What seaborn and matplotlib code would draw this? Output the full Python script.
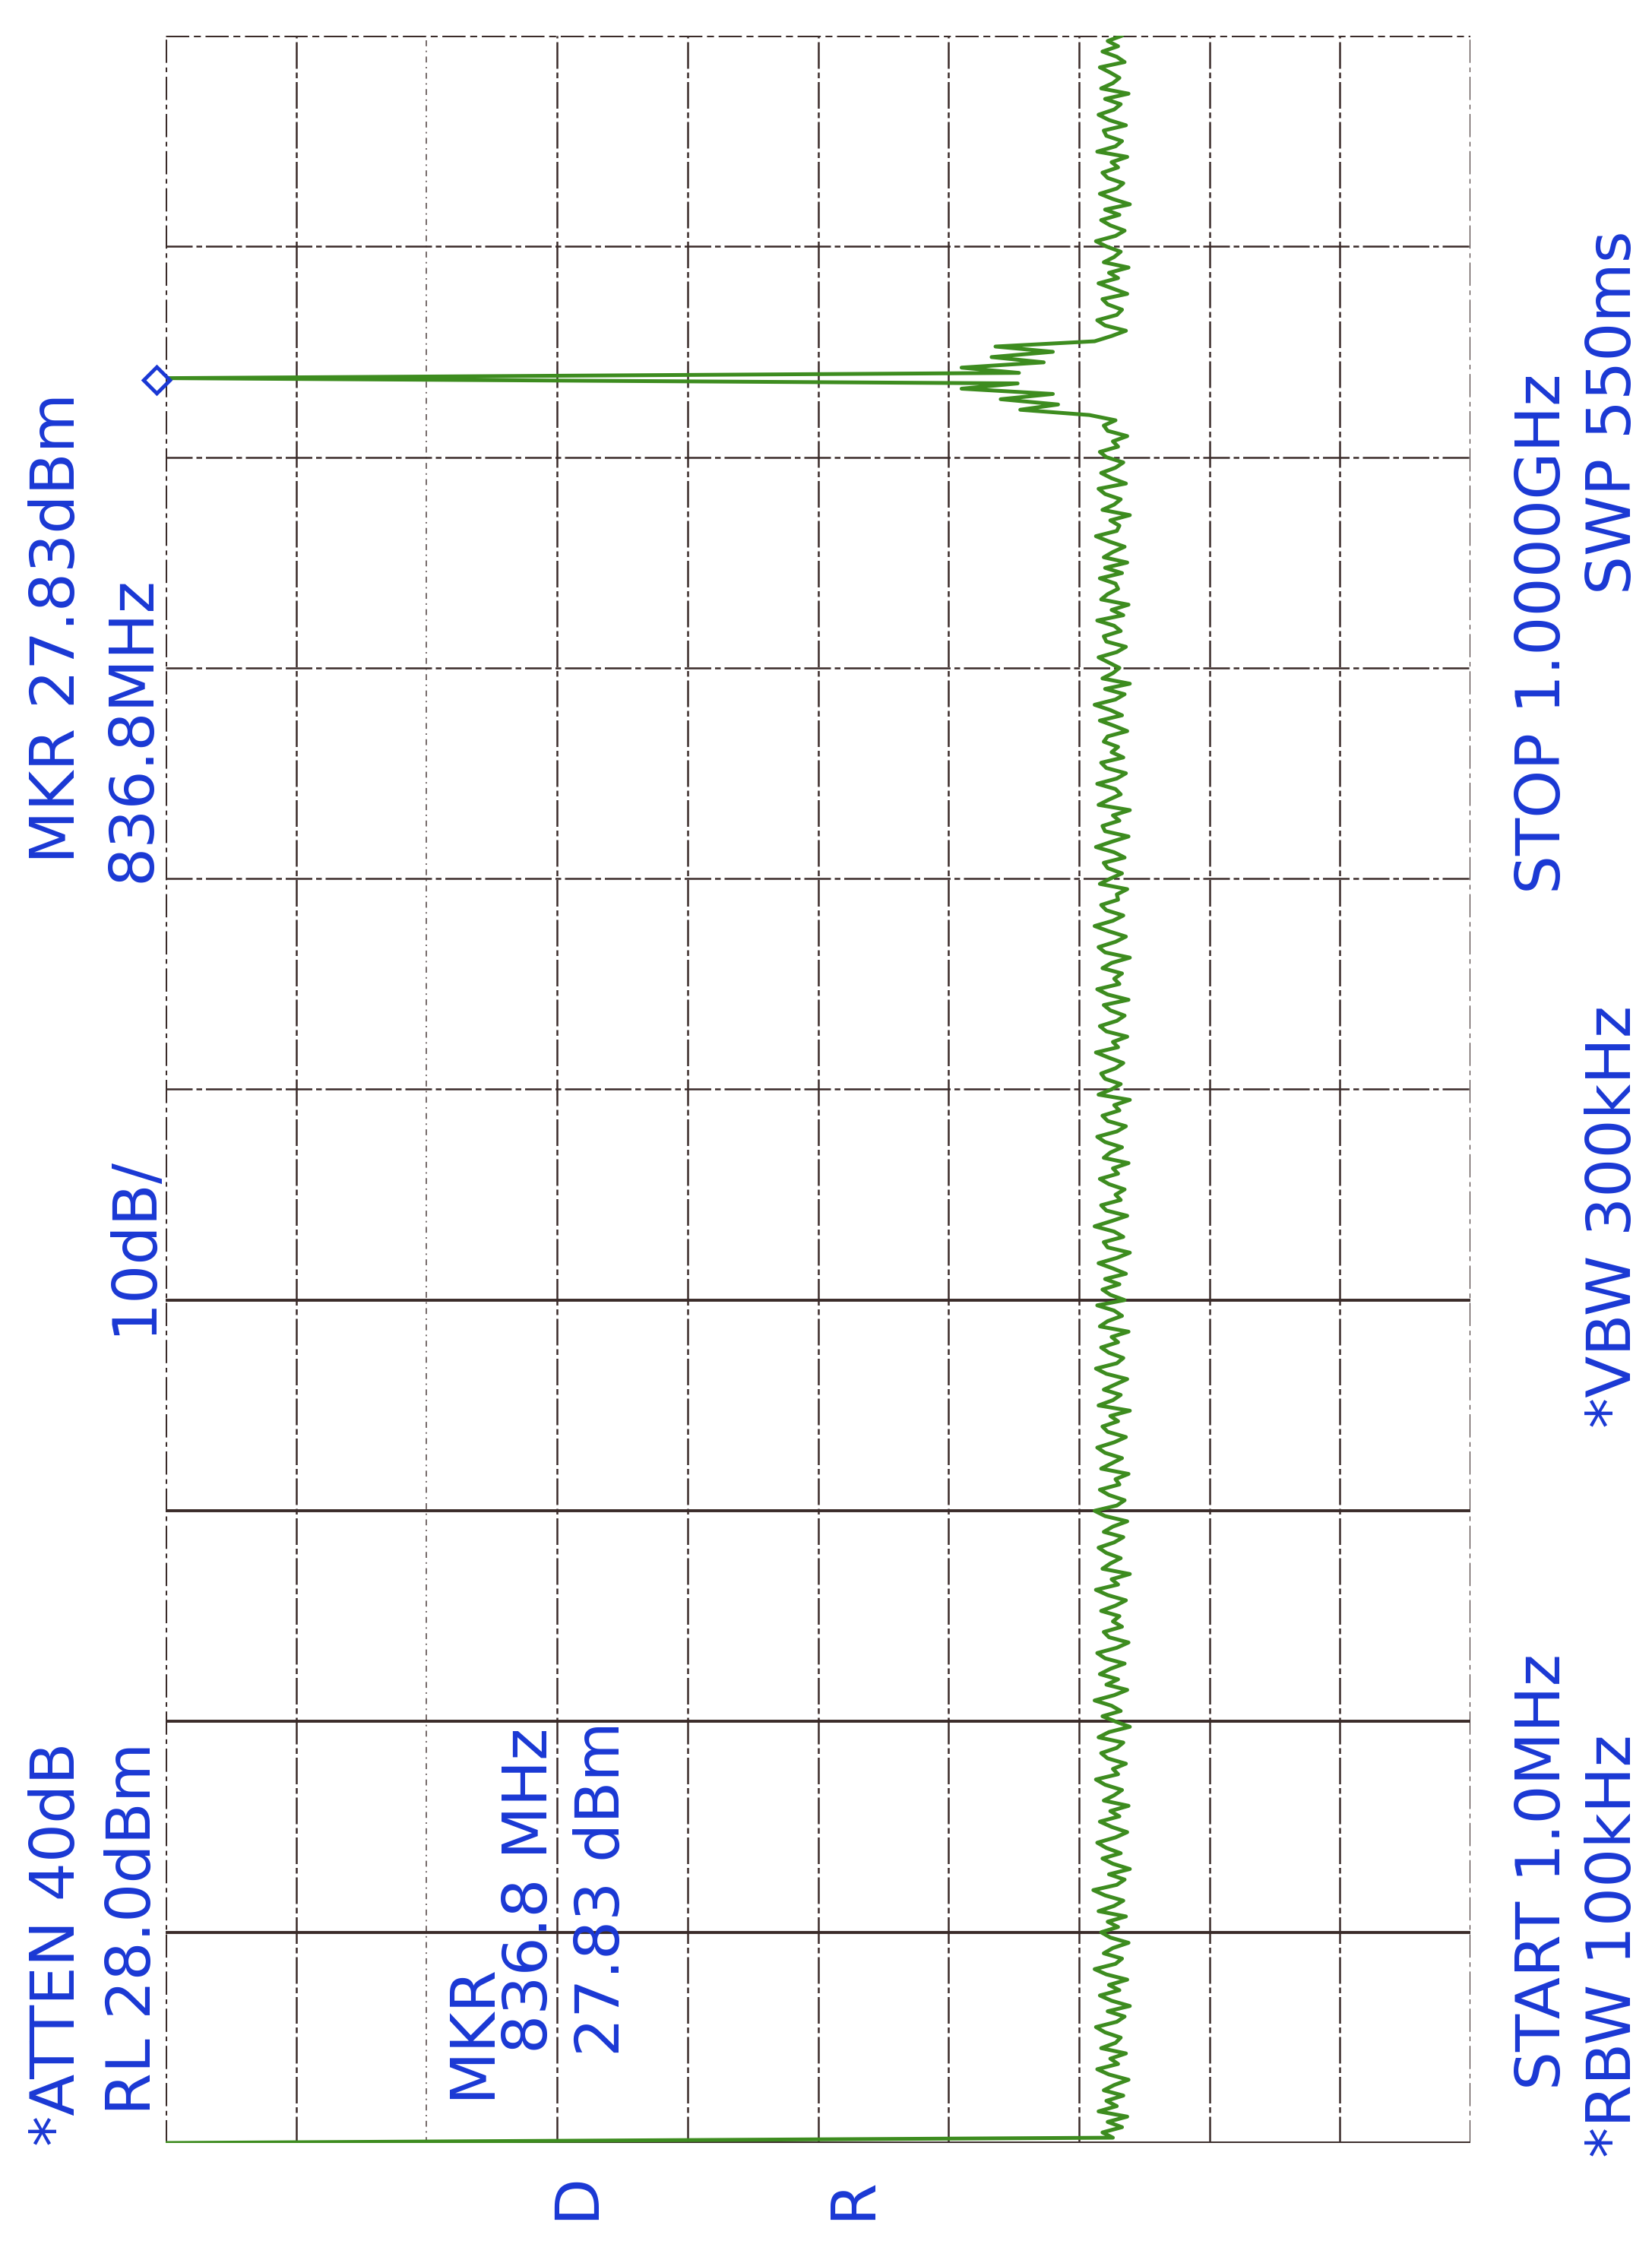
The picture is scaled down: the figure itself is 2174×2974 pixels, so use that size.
import numpy as np
import pandas as pd
import matplotlib
matplotlib.use("Agg")
import matplotlib.pyplot as plt
import matplotlib.transforms as mtransforms
import seaborn as sns

# sweep settings read from the annotations
start_mhz = 1.0
stop_mhz = 1000.0
n_points = 401
ref_level = 28.0
db_per_div = 10.0

marker_mhz = 836.8
marker_dbm = 27.83

# trace values (dBm), low frequency to high
lo_feedthrough = [28.0]
noise_low = [
    -44.6, -43.8, -45.3, -44.2, -45.7, -43.5, -44.9, -44.1, -45.4, -43.9,
    -44.7, -45.8, -44.3, -43.4, -45.0, -44.4, -45.6, -43.7, -44.8, -45.2,
    -44.0, -43.3, -44.9, -45.5, -44.2, -45.9, -44.5, -43.6, -45.1, -44.3,
    -45.7, -44.1, -43.2, -44.8, -45.3, -43.9, -44.6, -45.8, -44.4, -43.7,
    -45.0, -44.2, -45.6, -43.5, -44.7, -45.4, -44.0, -43.1, -44.9, -45.5,
    -44.3, -45.9, -44.6, -43.8, -45.2, -44.1, -43.4, -44.8, -45.7, -44.5,
    -43.6, -45.1, -44.4, -45.8, -43.9, -44.7, -45.3, -44.0, -43.3, -45.0,
    -44.6, -45.6, -44.2, -43.7, -44.9, -45.4, -43.5, -44.3, -45.9, -44.8,
    -43.8, -45.2, -44.5, -43.2, -44.7, -45.7, -44.1, -45.0, -43.6, -44.4,
    -45.5, -44.0, -43.4, -44.9, -45.8, -44.3, -43.9, -45.3, -44.6, -45.1,
    -43.7, -44.8, -45.6, -44.2, -43.3, -45.0, -44.5, -45.9, -43.8, -44.4,
    -45.2, -44.1, -43.5, -44.7, -45.4, -43.9, -44.6, -45.7, -44.0, -43.2,
    -44.9, -45.5, -44.3, -43.6, -45.1, -44.8, -45.8, -43.7, -44.5, -45.3,
    -44.0, -43.4, -44.7, -45.6, -44.2, -43.8, -45.0, -44.4, -45.9, -43.5,
    -44.6, -45.2, -43.9, -44.8, -45.7, -44.1, -43.3, -44.9, -45.4, -44.3,
    -43.7, -45.0, -44.5, -45.8, -43.6, -44.2, -45.3, -44.7, -43.4, -45.5,
    -44.4, -43.8, -45.1, -44.0, -45.6, -44.6, -43.5, -44.9, -45.9, -44.2,
    -43.9, -45.4, -44.7, -43.2, -44.5, -45.7, -44.1, -43.7, -45.2, -44.8,
    -45.5, -44.3, -43.6, -45.0, -44.6, -45.8, -43.9, -44.4, -45.3, -44.0,
    -43.4, -44.9, -45.6, -44.2, -43.8, -45.1, -44.7, -45.9, -43.5, -44.5,
    -45.2, -44.0, -43.7, -44.8, -45.4, -44.3, -43.3, -45.0, -44.6, -45.7,
    -44.1, -43.6, -44.9, -45.5, -44.4, -43.9, -45.8, -44.2, -43.4, -45.1,
    -44.7, -45.3, -43.8, -44.5, -45.9, -44.0, -43.5, -44.8, -45.6, -44.3,
    -43.2, -44.6, -45.4, -44.1, -43.7, -45.0, -44.9, -45.7, -43.6, -44.4,
    -45.3, -44.2, -43.9, -45.5, -44.7, -43.3, -44.5, -45.8, -44.0, -43.8,
    -45.1, -44.6, -45.9, -43.5, -44.3, -45.2, -44.8, -43.4, -44.9, -45.6,
    -44.1, -43.7, -45.4, -44.5, -45.0, -43.9, -44.2, -45.7, -44.7, -43.6,
    -45.3, -44.4, -43.2, -44.8, -45.5, -44.0, -45.9, -43.8, -44.6, -45.1,
    -44.3, -43.5, -44.9, -45.6, -44.1, -43.9, -45.2, -44.7, -43.4, -45.4,
    -44.5, -45.8, -43.7, -44.2, -45.0, -44.8, -43.6, -45.3, -44.0, -45.7,
    -43.9, -44.6, -45.5, -44.3, -43.3, -44.9, -45.1, -44.4, -45.9, -43.8,
    -44.7, -45.2, -44.0, -43.5, -45.6, -44.5, -43.7, -44.8, -45.4, -44.1,
    -43.6, -45.0, -44.6, -45.7, -44.2, -43.9, -44.8,
]
carrier = [
    -42.8, -37.5, -40.4, -36.0, -40.0, -33.0, -37.3, 27.83,
    -37.4, -33.0, -39.3, -35.3, -40.0, -35.6, -43.2,
]
noise_high = [
    -44.5, -45.6, -44.0, -43.4, -44.9, -45.3, -44.2, -43.8, -45.7, -44.6,
    -43.5, -45.0, -44.3, -45.8, -43.9, -44.7, -45.2, -44.1, -43.3, -44.8,
    -45.5, -44.4, -43.7, -45.1, -44.0, -45.9, -44.6, -43.6, -44.9, -45.4,
    -44.2, -43.8, -45.0, -44.5, -45.7, -43.4, -44.8, -45.3, -44.1, -43.9,
    -45.6, -44.3, -43.5, -44.7, -45.2, -44.0, -45.8, -43.7, -44.6, -45.1,
    -44.4, -43.6, -45.5, -44.9, -43.8, -45.0, -44.2, -45.3,
]

levels = lo_feedthrough + noise_low + carrier + noise_high
freqs = np.linspace(start_mhz, stop_mhz, n_points)
trace = pd.DataFrame({"freq": freqs, "level": levels})

blue = "#1a38d4"
green = "#3d8c1f"
ink = "#3a2b29"

sns.set_theme(style="white")
plt.rcParams["font.family"] = ["DejaVu Sans"]

W, H = 2174, 2974
fig = plt.figure(figsize=(W / 100, H / 100), dpi=100, facecolor="white")
ax = fig.add_axes([218 / W, 1 - 2820 / H, (1935 - 218) / W, (2820 - 47) / H])

# graticule: 10 divisions each way
bottom_level = ref_level - 10 * db_per_div
span = stop_mhz - start_mhz
for k in range(11):
    lvl = ref_level - k * db_per_div
    if k in (0, 10):
        ax.axvline(lvl, color=ink, lw=2.2, ls=(0, (10, 2, 2, 2)), zorder=1)
    elif k == 2:
        ax.axvline(lvl, color=ink, lw=1.4, alpha=0.7, ls=(0, (4, 3, 1, 3)), zorder=1)
    else:
        ax.axvline(lvl, color=ink, lw=1.8, ls=(0, (14, 2, 3, 2)), zorder=1)
for k in range(11):
    f = start_mhz + k * span / 10
    if k in (0, 1, 2, 3, 4):
        ax.axhline(f, color=ink, lw=2.8, ls="-", zorder=1)
    elif k == 10:
        ax.axhline(f, color=ink, lw=2.2, ls=(0, (10, 2, 3, 2)), zorder=1)
    else:
        ax.axhline(f, color=ink, lw=1.8, ls=(0, (14, 2, 3, 2)), zorder=1)

sns.lineplot(data=trace, x="level", y="freq", sort=False, estimator=None,
             color=green, lw=3.6, ax=ax, zorder=3)

# marker diamond sits just left of the marked point
shift = mtransforms.offset_copy(ax.transData, fig=fig, x=-15, y=0, units="dots")
ax.plot([marker_dbm], [marker_mhz], marker=(4, 0, 0), ms=25, mfc="none",
        mec=blue, mew=3.5, transform=shift, clip_on=False, zorder=4)

ax.set_xlim(ref_level, bottom_level)
ax.set_ylim(start_mhz, stop_mhz)
ax.set_xticks([])
ax.set_yticks([])
ax.set_xlabel("")
ax.set_ylabel("")
for sp in ax.spines.values():
    sp.set_visible(False)

# annotation text: (string, column x px, reading-start y px); plotter pitch ~75 px
fs = 58
pitch_ref = 75.0
labels = [
    ("*ATTEN 40dB", 76, 2906),
    ("RL 28.0dBm", 176, 2855),
    ("MKR 27.83dBm", 76, 1214),
    ("836.8MHz", 176, 1214),
    ("10dB/", 176, 1793),
    ("MKR", 622, 2770),
    ("836.8 MHz", 698, 2770),
    ("27.83 dBm", 793, 2770),
    ("D", 759, 2921),
    ("R", 1123, 2921),
    ("START 1.0MHz", 2031, 2842),
    ("STOP 1.0000GHz", 2031, 1280),
    ("*RBW 100kHz", 2124, 2913),
    ("*VBW 300kHz", 2124, 1954),
    ("SWP 550ms", 2124, 835),
]
texts = []
for s, x, y0 in labels:
    t = fig.text(x / W, 1 - y0 / H, s, rotation=90, ha="center", va="bottom",
                 fontsize=fs, color=blue)
    texts.append((t, s, x, y0))

# the plotter font is wider than any installed one: nudge each line so the
# missing length is shared between its start and its end
fig.canvas.draw()
renderer = fig.canvas.get_renderer()
for t, s, x, y0 in texts:
    mine = t.get_window_extent(renderer).height
    ref_len = len(s) * pitch_ref - 20
    y = y0 - 0.3 * max(ref_len - mine, 0)
    t.set_position((x / W, 1 - y / H))

fig.savefig("out.png", dpi=100, facecolor="white")
